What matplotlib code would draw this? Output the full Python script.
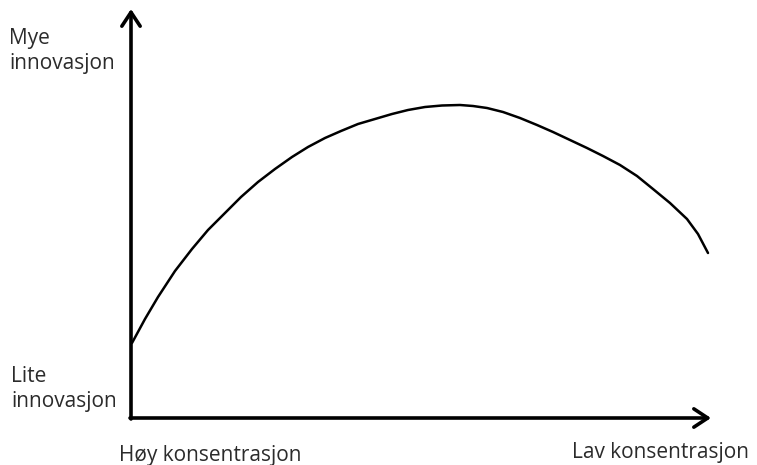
import matplotlib
matplotlib.use("Agg")
import matplotlib.pyplot as plt

# curve, in pixels: x right of the y axis (x=131),
# y above the x axis (y=418)
konsentrasjon = [1, 14, 27, 44, 61, 77, 94, 110, 127, 144, 161, 177, 194,
                 210, 227, 244, 261, 277, 294, 311, 329, 342, 356, 372, 389,
                 406, 422, 439, 456, 472, 489, 506, 522, 539, 556, 567, 577]
innovasjon = [75, 99, 121, 147, 169, 188, 205, 221, 236, 249, 261, 271, 280,
              287, 294, 299, 304, 308, 311, 312.5, 313, 312, 310, 306, 300,
              293, 286, 278, 270, 262, 253, 242, 229, 215, 199, 184, 165]

y_labels = ["Mye\ninnovasjon", "Lite\ninnovasjon"]
x_labels = ["Høy konsentrasjon", "Lav konsentrasjon"]

plt.rcParams["font.family"] = ["Open Sans", "DejaVu Sans"]

fig = plt.figure(figsize=(7.57, 4.65), dpi=100)
ax = fig.add_axes([0, 0, 1, 1])
# origin of the drawn axes sits at pixel (131, 418)
ax.set_xlim(-131, 757 - 131)
ax.set_ylim(418 - 465, 418)
ax.axis("off")

arrow = dict(arrowstyle="->,head_length=0.5,head_width=0.33",
             mutation_scale=20, lw=2.6, color="black",
             shrinkA=0, shrinkB=0)
ax.annotate("", xy=(0, 409), xytext=(0, -1), arrowprops=arrow)
ax.annotate("", xy=(580, 0), xytext=(-1, 0), arrowprops=arrow)

ax.plot(konsentrasjon, innovasjon, color="black", lw=1.8,
        solid_capstyle="round", solid_joinstyle="round")

txt = dict(fontsize=15, ha="left", va="center", color="#2b2b2b",
           linespacing=1.3)
ax.text(-122, 367, y_labels[0], **txt)
ax.text(-120, 29, y_labels[1], **txt)
ax.text(-12, -37, x_labels[0], **txt)
ax.text(441, -34, x_labels[1], **txt)

fig.savefig("out.png", dpi=100)
